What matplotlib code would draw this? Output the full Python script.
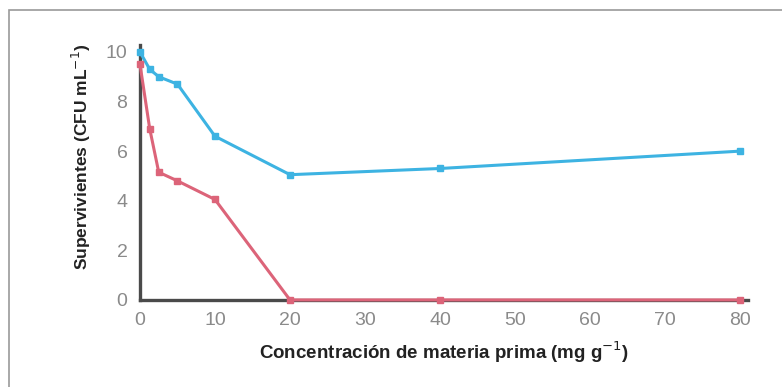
import matplotlib.pyplot as plt
from matplotlib.patches import Rectangle

# concentration (mg/g) and survivors (CFU/mL, log)
conc = [0, 1.3, 2.5, 5, 10, 20, 40, 80]
blue_vals = [10.0, 9.3, 9.0, 8.7, 6.6, 5.05, 5.3, 6.0]
red_vals = [9.5, 6.9, 5.15, 4.8, 4.05, 0.0, 0.0, 0.0]
xticks = [0, 10, 20, 30, 40, 50, 60, 70, 80]
yticks = [0, 2, 4, 6, 8, 10]

plt.rcParams['font.family'] = ['Liberation Sans', 'DejaVu Sans']

fig = plt.figure(figsize=(7.82, 3.87), dpi=100)
fig.patches.append(Rectangle((0.011, -0.01), 1.0, 0.985, transform=fig.transFigure,
                             fill=False, edgecolor='#9a9a9a', linewidth=1.2))

ax = fig.add_axes([0.179, 0.225, 0.777, 0.66])
ax.plot(conc, blue_vals, color='#3db3e2', linewidth=2.2, marker='s', markersize=4.5,
        clip_on=False, zorder=3)
ax.plot(conc, red_vals, color='#dc6479', linewidth=2.2, marker='s', markersize=4.5,
        clip_on=False, zorder=3)

ax.set_xlim(0, 81)
ax.set_ylim(0, 10.3)
ax.set_xticks(xticks)
ax.set_yticks(yticks)
ax.tick_params(length=0, labelsize=14, labelcolor='#8a8a8a', pad=9)
for s in ['top', 'right']:
    ax.spines[s].set_visible(False)
for s in ['left', 'bottom']:
    ax.spines[s].set_color('#4a4a4a')
    ax.spines[s].set_linewidth(2.4)

ax.set_xlabel('Concentración de materia prima (mg g$^{-1}$)', fontsize=13.5,
              fontweight='bold', color='#222222', labelpad=7)
ax.set_ylabel('Supervivientes (CFU mL$^{-1}$)', fontsize=12.5,
              fontweight='bold', color='#222222')
ax.yaxis.set_label_coords(-0.077, 0.56)

fig.savefig('out.png', dpi=100)
